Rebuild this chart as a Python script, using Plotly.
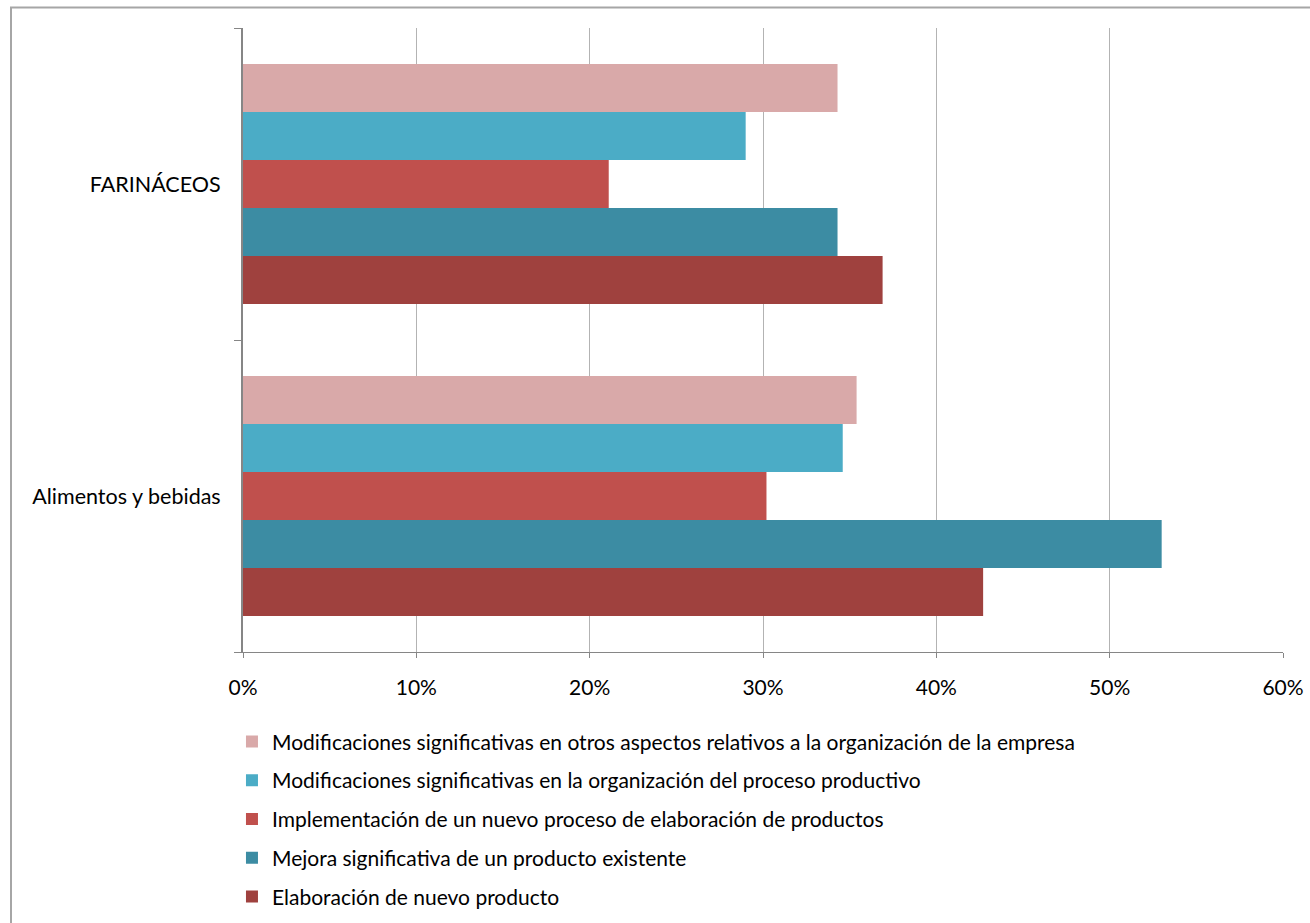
import plotly.graph_objects as go

categorias = ["Alimentos y bebidas", "FARINÁCEOS"]

series = [
    "Elaboración de nuevo producto",
    "Mejora significativa de un producto existente",
    "Implementación de un nuevo proceso de elaboración de productos",
    "Modificaciones significativas en la organización del proceso productivo",
    "Modificaciones significativas en otros aspectos relativos a la organización de la empresa",
]

elaboracion = [0.427, 0.369]
mejora = [0.530, 0.343]
implementacion = [0.302, 0.211]
org_proceso = [0.346, 0.290]
otros_aspectos = [0.354, 0.343]

colores = ["#9F413E", "#3C8CA3", "#C0504D", "#4BACC6", "#D9A9A9"]

valores = [elaboracion, mejora, implementacion, org_proceso, otros_aspectos]

FONT = "Lato, Carlito, Calibri, sans-serif"

fig = go.Figure()
for i, (nombre, vals, color) in enumerate(zip(series, valores, colores)):
    fig.add_trace(go.Bar(
        y=categorias,
        x=vals,
        name=nombre,
        orientation="h",
        marker=dict(color=color, line=dict(width=0)),
        legendgroup=nombre,
        legendrank=len(series) - i,  # legend lists the top bar first
    ))

fig.update_layout(
    width=1310,
    height=923,
    barmode="group",
    bargap=0.23,
    bargroupgap=0,
    paper_bgcolor="white",
    plot_bgcolor="white",
    margin=dict(l=243, r=27, t=28, b=271, autoexpand=False),
    font=dict(family=FONT, size=21, color="#000000"),
    legend=dict(
        traceorder="grouped",
        orientation="v",
        x=-0.0106,
        xanchor="left",
        y=-0.111,
        yanchor="top",
        tracegroupgap=8.5,
        font=dict(size=21),
        bgcolor="rgba(0,0,0,0)",
    ),
    xaxis=dict(
        range=[0, 0.6],
        dtick=0.1,
        tickformat=".0%",
        showgrid=True,
        gridcolor="#B3B3B3",
        gridwidth=1,
        showline=True,
        linecolor="#868686",
        linewidth=1,
        ticks="outside",
        ticklen=5,
        tickcolor="#868686",
        ticklabelstandoff=12,
        zeroline=False,
        fixedrange=True,
    ),
    yaxis=dict(
        showgrid=False,
        showline=True,
        linecolor="#868686",
        linewidth=2,
        ticks="outside",
        tickson="boundaries",
        ticklen=7,
        tickcolor="#868686",
        ticklabelstandoff=16,
        tickfont=dict(size=21.5),
        fixedrange=True,
    ),
    shapes=[dict(
        type="rect",
        xref="paper", yref="paper",
        x0=(11 - 243) / 1040, x1=1.05,
        y0=-0.5, y1=1 + (28 - 7.5) / 624,
        line=dict(color="#A6A6A6", width=2),
        fillcolor="rgba(0,0,0,0)",
        layer="below",
    )],
)

fig.write_html(
    "out.html",
    config={"displayModeBar": False},
    post_script="document.body.style.margin='0';",
)
